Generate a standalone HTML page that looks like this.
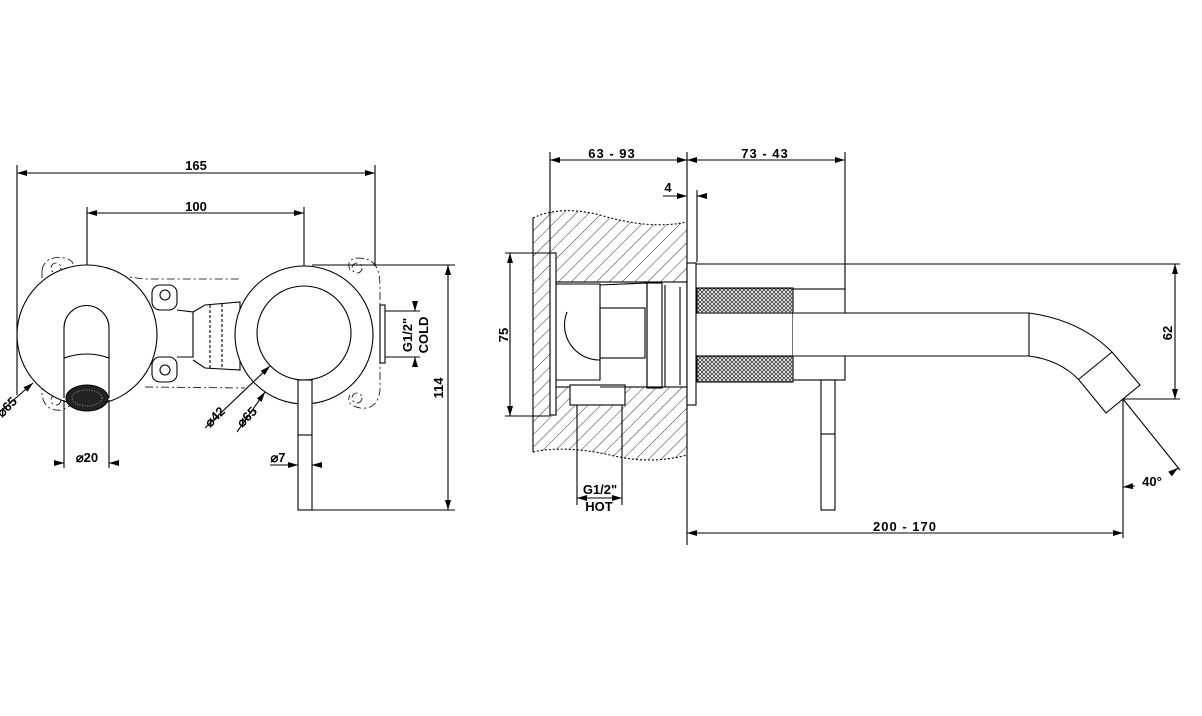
<!DOCTYPE html>
<html><head><meta charset="utf-8"><style>
html,body{margin:0;padding:0;background:#fff}
svg{display:block}
text{font-family:"Liberation Sans",sans-serif;font-weight:bold;font-size:13px;fill:#000}
</style></head><body>
<svg width="1202" height="716" viewBox="0 0 1202 716" xmlns="http://www.w3.org/2000/svg">
<defs>
<pattern id="h" width="9" height="9" patternUnits="userSpaceOnUse" patternTransform="rotate(45)">
<line x1="0" y1="0" x2="0" y2="9" stroke="#000" stroke-width="0.8"/>
</pattern>
<pattern id="k" width="4" height="4" patternUnits="userSpaceOnUse">
<circle cx="2" cy="2" r="1.4" fill="none" stroke="#000" stroke-width="0.7"/>
</pattern>
<marker id="a" viewBox="0 0 10 6" refX="10" refY="3" markerWidth="10" markerHeight="6" orient="auto-start-reverse" markerUnits="userSpaceOnUse"><path d="M0,0L10,3L0,6z" fill="#000"/></marker>
</defs>
<g fill="none" stroke="#000" stroke-width="1.1">
<!-- LEFT VIEW -->
<line x1="17" y1="165" x2="17" y2="395"/>
<line x1="375" y1="165" x2="375" y2="266"/>
<line x1="17" y1="173" x2="375" y2="173" marker-start="url(#a)" marker-end="url(#a)"/>
<line x1="87" y1="207" x2="87" y2="300"/>
<line x1="304" y1="207" x2="304" y2="278"/>
<line x1="87" y1="213" x2="304" y2="213" marker-start="url(#a)" marker-end="url(#a)"/>
<g stroke-dasharray="8,3,2,3" stroke-width="0.8">
<path d="M42,270 Q45,255 65,258 Q78,262 70,270 L145,279 L240,279"/>
<path d="M42,270 L42,395 Q45,412 62,410 Q75,405 70,398"/>
<path d="M145,387 L245,388"/>
<path d="M372,262 Q380,268 380,285 L380,390 Q378,410 360,408 Q345,405 350,395"/>
<path d="M350,270 Q345,258 360,258 Q372,260 372,262"/>
<circle cx="56" cy="268" r="5"/><circle cx="56" cy="400" r="5"/>
<circle cx="357" cy="268" r="5"/><circle cx="357" cy="398" r="5"/>
</g>
<rect x="152" y="285" width="25" height="25" rx="8"/><circle cx="165" cy="295" r="5"/>
<rect x="152" y="357" width="25" height="25" rx="8"/><circle cx="165" cy="370" r="5"/>
<path d="M177,310 L193,312 L193,357 L177,357"/>
<path d="M193,312 L205,305 L240,302 L240,370 L205,368 L193,360"/>
<line x1="210" y1="305" x2="210" y2="368" stroke-dasharray="3,2"/>
<line x1="222" y1="304" x2="222" y2="368" stroke-dasharray="3,2"/>
<rect x="380" y="305" width="5" height="58"/>
<circle cx="87" cy="335" r="70" fill="#fff"/>
<path d="M64,398 L64,328 A22.5,22.5 0 0 1 109,328 L109,398"/>
<path d="M64,358 Q87,350 109,358"/>
<ellipse cx="87" cy="398" rx="21" ry="13" fill="#222"/>
<ellipse cx="87" cy="398" rx="15" ry="8" fill="none" stroke="#888" stroke-dasharray="1,1.5"/>
<circle cx="304" cy="335" r="69" fill="#fff"/>
<circle cx="304" cy="333" r="47"/>
<rect x="298" y="380" width="14" height="130" fill="#fff"/>
<line x1="298" y1="435" x2="312" y2="435"/>
<line x1="312" y1="265" x2="455" y2="265"/>
<line x1="312" y1="510" x2="455" y2="510"/>
<line x1="448" y1="265" x2="448" y2="510" marker-start="url(#a)" marker-end="url(#a)"/>
<line x1="385" y1="311" x2="420" y2="311"/>
<line x1="385" y1="357" x2="420" y2="357"/>
<line x1="415" y1="303" x2="415" y2="311" marker-end="url(#a)"/>
<line x1="415" y1="365" x2="415" y2="357" marker-end="url(#a)"/>
<line x1="64" y1="400" x2="64" y2="468"/>
<line x1="109" y1="400" x2="109" y2="468"/>
<line x1="55" y1="463" x2="64" y2="463" marker-end="url(#a)"/>
<line x1="117" y1="463" x2="109" y2="463" marker-end="url(#a)"/>
<line x1="270" y1="465" x2="298" y2="465" marker-end="url(#a)"/>
<line x1="322" y1="465" x2="312" y2="465" marker-end="url(#a)"/>
<line x1="2" y1="410" x2="33" y2="383" marker-end="url(#a)"/>
<line x1="205" y1="428" x2="270" y2="366" marker-end="url(#a)"/>
<line x1="237" y1="432" x2="265" y2="392" marker-end="url(#a)"/>

<!-- RIGHT VIEW -->
<path fill="url(#h)" fill-rule="evenodd" stroke="none" d="M533,218 Q560,205 600,215 Q650,230 687,222 L687,455 Q650,465 610,455 Q565,445 533,452 Z M556,282 L687,282 L687,387 L625,387 L625,405 L570,405 L570,387 L556,387 Z"/>
<path d="M533,218 Q560,205 600,215 Q650,230 687,222" stroke-dasharray="2,2"/>
<path d="M533,452 Q565,445 610,455 Q650,465 687,455" stroke-dasharray="2,2"/>
<line x1="533" y1="218" x2="533" y2="452"/>
<rect x="556" y="282" width="131" height="105" fill="#fff"/>
<rect x="570" y="385" width="55" height="20" fill="#fff"/>
<rect x="550" y="253" width="6" height="162" fill="#fff"/>
<path d="M556,284 L600,284 L600,380 L556,380"/>
<path d="M600,285 L647,283 L647,387 L600,387"/>
<path d="M567,312 A35,35 0 0 0 600,360"/>
<rect x="600" y="308" width="45" height="50"/>
<rect x="647" y="283" width="15" height="105"/>
<line x1="665" y1="285" x2="665" y2="387"/>
<line x1="680" y1="287" x2="680" y2="385"/>
<line x1="550" y1="152" x2="550" y2="253"/>
<line x1="687" y1="152" x2="687" y2="545"/>
<line x1="845" y1="152" x2="845" y2="289"/>
<line x1="550" y1="160" x2="687" y2="160" marker-start="url(#a)" marker-end="url(#a)"/>
<line x1="687" y1="160" x2="845" y2="160" marker-start="url(#a)" marker-end="url(#a)"/>
<line x1="697" y1="190" x2="697" y2="262"/>
<line x1="663" y1="196" x2="687" y2="196" marker-end="url(#a)"/>
<line x1="707" y1="196" x2="697" y2="196" marker-end="url(#a)"/>
<line x1="505" y1="253" x2="550" y2="253"/>
<line x1="505" y1="416" x2="550" y2="416"/>
<line x1="510" y1="253" x2="510" y2="416" marker-start="url(#a)" marker-end="url(#a)"/>
<rect x="687" y="263" width="9" height="142" fill="#fff"/>
<rect x="697" y="288" width="96" height="25" fill="url(#k)"/>
<rect x="697" y="356" width="96" height="26" fill="url(#k)"/>
<rect x="793" y="289" width="52" height="91" fill="#fff"/>
<line x1="696" y1="264" x2="1180" y2="264"/>
<path d="M793,313 L1029,313 Q1080,320 1112,352 L1140,385 L1106,413 L1079,380 Q1060,360 1029,356 L793,356" fill="#fff"/>
<line x1="1029" y1="313" x2="1029" y2="356"/>
<line x1="1079" y1="379" x2="1112" y2="352"/>
<rect x="821" y="380" width="14" height="130" fill="#fff"/>
<line x1="821" y1="434" x2="835" y2="434"/>
<line x1="1123" y1="399" x2="1180" y2="399"/>
<line x1="1175" y1="264" x2="1175" y2="399" marker-start="url(#a)" marker-end="url(#a)"/>
<line x1="1123" y1="399" x2="1123" y2="538"/>
<line x1="1123" y1="399" x2="1180" y2="470"/>
<line x1="687" y1="533" x2="1123" y2="533" marker-start="url(#a)" marker-end="url(#a)"/>
<line x1="1135" y1="486" x2="1123" y2="487" marker-end="url(#a)"/>
<line x1="1170" y1="474" x2="1178" y2="468" marker-end="url(#a)"/>
<line x1="577" y1="405" x2="577" y2="505"/>
<line x1="622" y1="405" x2="622" y2="505"/>
<line x1="577" y1="498" x2="622" y2="498" marker-start="url(#a)" marker-end="url(#a)"/>
</g>
<g>
<text x="196" y="170" text-anchor="middle">165</text>
<text x="196" y="211" text-anchor="middle">100</text>
<text x="87" y="462" text-anchor="middle">⌀20</text>
<text x="278" y="462" text-anchor="middle">⌀7</text>
<text transform="translate(10,410) rotate(-45)" text-anchor="middle">⌀65</text>
<text transform="translate(218,420) rotate(-45)" text-anchor="middle">⌀42</text>
<text transform="translate(250,420) rotate(-45)" text-anchor="middle">⌀65</text>
<text transform="translate(443,388) rotate(-90)" text-anchor="middle">114</text>
<text transform="translate(412,335) rotate(-90)" text-anchor="middle">G1/2"</text>
<text transform="translate(428,335) rotate(-90)" text-anchor="middle">COLD</text>
<text x="612" y="158" text-anchor="middle" style="letter-spacing:1px">63 - 93</text>
<text x="765" y="158" text-anchor="middle" style="letter-spacing:1px">73 - 43</text>
<text x="668" y="192" text-anchor="middle">4</text>
<text transform="translate(508,335) rotate(-90)" text-anchor="middle">75</text>
<text transform="translate(1172,333) rotate(-90)" text-anchor="middle">62</text>
<text x="1152" y="486" text-anchor="middle">40°</text>
<text x="905" y="531" text-anchor="middle" style="letter-spacing:1px">200 - 170</text>
<text x="600" y="494" text-anchor="middle">G1/2"</text>
<text x="599" y="511" text-anchor="middle">HOT</text>
</g>
</svg>
</body></html>
